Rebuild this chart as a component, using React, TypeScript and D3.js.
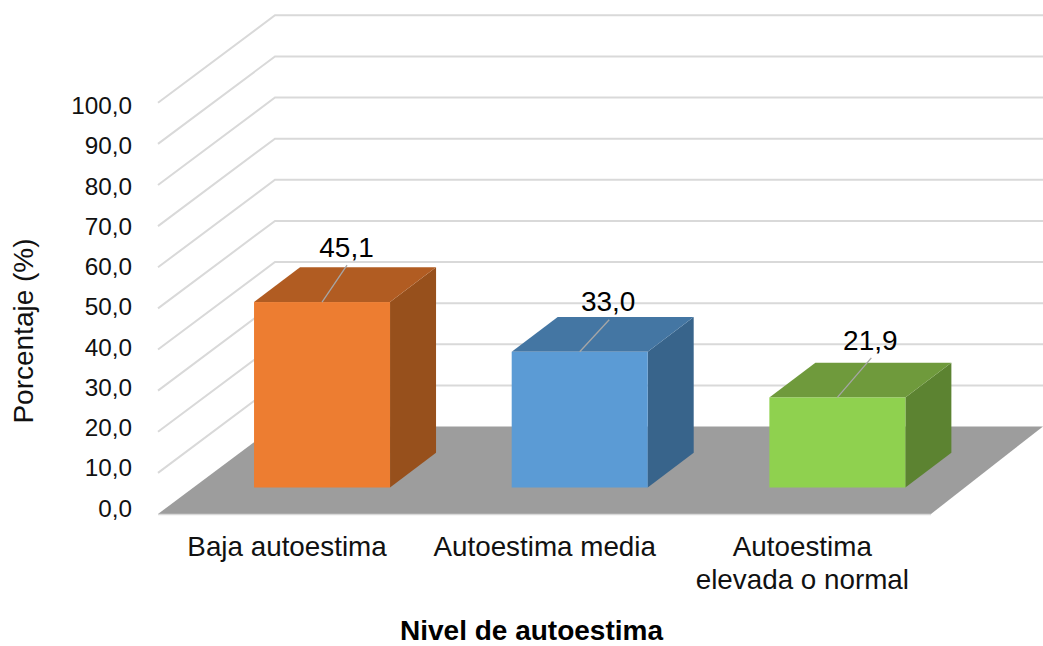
import React from "react";
import * as d3 from "d3";

const categories = ["Baja autoestima", "Autoestima media", "Autoestima elevada o normal"];
const categoryLines = [["Baja autoestima"], ["Autoestima media"], ["Autoestima", "elevada o normal"]];
const values = [45.1, 33.0, 21.9];
const valueLabels = ["45,1", "33,0", "21,9"];
const ticks = [0, 10, 20, 30, 40, 50, 60, 70, 80, 90, 100];
const frontColors = ["#ed7d31", "#5b9bd5", "#8fd14f"];
const topColors = ["#b15c22", "#4476a3", "#6f9a3c"];
const sideColors = ["#97501c", "#38648b", "#5c8331"];
const leaderDx = [25, 29.5, 34];
const leaderDy = [37, 32, 39.6];
const labelDx = [24.5, 28.5, 33];
const labelDy = [45, 41, 47];

const W = 1043, H = 646;
const x0 = 158, xFrontEnd = 931, xBackEnd = 1043;
const yFront0 = 514, yBack0 = 426.5;
const depthX = 117;
const unit = 4.112;
const barBase = 487.5;
const barDepthX = 46, barDepthY = 34.8;

const yGrid = d3.scaleLinear().domain([0, 100]).range([0, -100 * unit]);
const yLabel = d3.scaleLinear().domain([0, 100]).range([516.5, 114]);
const xBand = d3.scaleBand<string>().domain(categories).range([x0 + 35.2, xFrontEnd + 35.2]);
const barW = 136;
const line = d3.line();
const poly = (pts: [number, number][]) => line(pts)! + "Z";
const font = "'Liberation Sans', Arial, sans-serif";

export default function App() {
  return (
    <svg width={W} height={H} viewBox={`0 0 ${W} ${H}`} fontFamily={font}
      style={{ position: "absolute", left: 0, top: 0, display: "block", background: "#fff" }}>
      {ticks.filter(t => t > 0).map(t => (
        <path key={t} fill="none" stroke="#d9d9d9" strokeWidth={2}
          d={line([[x0, yFront0 + yGrid(t)], [x0 + depthX, yBack0 + yGrid(t)], [xBackEnd, yBack0 + yGrid(t)]])!} />
      ))}
      <path d={poly([[x0, yFront0], [xFrontEnd, yFront0], [xBackEnd, yBack0], [x0 + depthX, yBack0]])} fill="#9d9d9d" />
      <path d={line([[x0, yFront0 + 0.5], [xFrontEnd, yFront0 + 0.5]])!} stroke="#d9d9d9" strokeWidth={1.5} fill="none" />
      {ticks.map(t => (
        <text key={t} x={132} y={yLabel(t)} textAnchor="end" fontSize={24.3} fill="#111">{t.toFixed(1).replace(".", ",")}</text>
      ))}
      {categories.map((c, i) => {
        const cx = xBand(c)! + xBand.bandwidth() / 2;
        const l = cx - barW / 2, r = cx + barW / 2;
        const top = barBase + yGrid(values[i]);
        return (
          <g key={c}>
            <path d={poly([[r, top], [r + barDepthX, top - barDepthY], [r + barDepthX, barBase - barDepthY], [r, barBase]])} fill={sideColors[i]} />
            <path d={poly([[l, top], [l + barDepthX, top - barDepthY], [r + barDepthX, top - barDepthY], [r, top]])} fill={topColors[i]} />
            <rect x={l} y={top} width={barW} height={barBase - top} fill={frontColors[i]} />
            <path d={line([[cx, top], [cx + leaderDx[i], top - leaderDy[i]]])!} stroke="#a6a6a6" strokeWidth={1.3} fill="none" />
            <text x={cx + labelDx[i]} y={top - labelDy[i]} textAnchor="middle" fontSize={28} fill="#000">{valueLabels[i]}</text>
            {categoryLines[i].map((s, k) => (
              <text key={k} x={cx - 35} y={556 + k * 33} textAnchor="middle" fontSize={27.8} fill="#111">{s}</text>
            ))}
          </g>
        );
      })}
      <text x={531.5} y={640} textAnchor="middle" fontSize={28} fontWeight="bold" fill="#000">Nivel de autoestima</text>
      <text transform="translate(33,331) rotate(-90)" textAnchor="middle" fontSize={28} fill="#111">Porcentaje (%)</text>
    </svg>
  );
}
